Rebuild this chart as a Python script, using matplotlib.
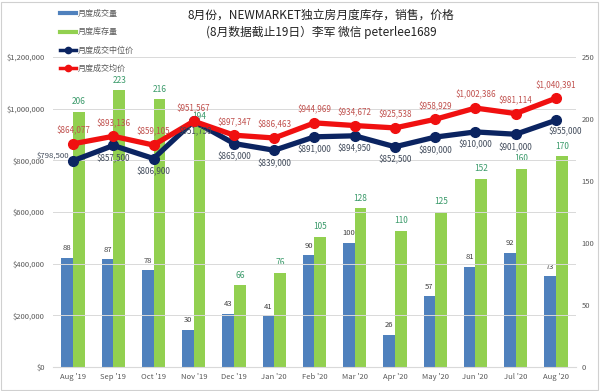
import matplotlib
matplotlib.use("Agg")
import matplotlib.pyplot as plt
import numpy as np
from matplotlib.lines import Line2D

plt.rcParams['font.family'] = ['Noto Sans CJK SC', 'DejaVu Sans']

months = ["Aug '19", "Sep '19", "Oct '19", "Nov '19", "Dec '19", "Jan '20", "Feb '20",
          "Mar '20", "Apr '20", "May '20", "Jun '20", "Jul '20", "Aug '20"]
sales = [88, 87, 78, 30, 43, 41, 90, 100, 26, 57, 81, 92, 73]
inventory = [206, 223, 216, 194, 66, 76, 105, 128, 110, 125, 152, 160, 170]
median_price = [798500, 857500, 806900, 951750, 865000, 839000, 891000, 894950,
                852500, 890000, 910000, 901000, 955000]
avg_price = [864077, 893136, 859105, 951567, 897347, 886463, 944969, 934672,
             925538, 958929, 1002386, 981114, 1040391]

C_BLUE = "#4f81bd"
C_GREEN = "#92d050"
C_NAVY = "#0b2461"
C_RED = "#f01010"
C_TICK = "#595959"
C_GRID = "#d9d9d9"

fig = plt.figure(figsize=(6, 3.91), dpi=100)
ax = fig.add_axes([0.0883, 0.0614, 0.8717, 0.7928])
ax2 = ax.twinx()
ax.set_zorder(ax2.get_zorder() + 1)
ax.patch.set_visible(False)

x = np.arange(len(months))
w = 0.29

ax2.bar(x - w / 2, sales, width=w, color=C_BLUE, zorder=2)
ax2.bar(x + w / 2, inventory, width=w, color=C_GREEN, zorder=2)
ax2.set_ylim(0, 250)
ax2.set_yticks(np.arange(0, 251, 50))

for xi, v in zip(x, sales):
    ax2.annotate(str(v), (xi - w / 2, v), xytext=(0, 4), textcoords="offset points",
                 ha="center", va="bottom", fontsize=5.5, color="#404040")
for xi, v in zip(x, inventory):
    ax2.annotate(str(v), (xi + w / 2, v), xytext=(0, 4), textcoords="offset points",
                 ha="center", va="bottom", fontsize=6, color="#3a9a6a")

ax.plot(x, median_price, color=C_NAVY, lw=3.8, marker="o", ms=7, zorder=4,
        solid_joinstyle="round", solid_capstyle="round")
ax.plot(x, avg_price, color=C_RED, lw=3.8, marker="o", ms=7, zorder=5,
        solid_joinstyle="round", solid_capstyle="round")
ax.set_ylim(0, 1200000)
ticks = np.arange(0, 1200001, 200000)
ax.set_yticks(ticks)
ax.set_yticklabels(["$" + format(int(v), ",") for v in ticks])
ax.set_xlim(-0.5, len(months) - 0.5)
ax.set_xticks(x)
ax.set_xticklabels(months)


def money(v):
    return "$" + format(int(v), ",")


for i, v in enumerate(avg_price):
    ax.annotate(money(v), (x[i], v), xytext=(0, 6), textcoords="offset points",
                ha="center", va="bottom", fontsize=5.8, color="#c0504d", zorder=6)
for i, v in enumerate(median_price):
    if i == 0:
        ax.annotate(money(v), (x[i], v), xytext=(-3, 4), textcoords="offset points",
                    ha="right", va="center", fontsize=5.6, color="#404a5a", zorder=6)
    elif i == len(median_price) - 1:
        ax.annotate(money(v), (x[i], v), xytext=(7, -5), textcoords="offset points",
                    ha="center", va="top", fontsize=5.8, color="#404a5a", zorder=6)
    elif i == 3:
        ax.annotate(money(v), (x[i], v), xytext=(1, -4), textcoords="offset points",
                    ha="center", va="top", fontsize=5.8, color="#404a5a", zorder=6)
    else:
        ax.annotate(money(v), (x[i], v), xytext=(0, -6), textcoords="offset points",
                    ha="center", va="top", fontsize=5.8, color="#404a5a", zorder=6)

ax.grid(axis="y", color=C_GRID, lw=0.7)
ax.set_axisbelow(True)
for a in (ax, ax2):
    for s in a.spines.values():
        s.set_visible(False)
    a.tick_params(length=0, labelsize=5.5, labelcolor=C_TICK)
ax.spines["bottom"].set_visible(True)
ax.spines["bottom"].set_color(C_GRID)
ax.tick_params(axis="y", pad=6)
ax2.tick_params(axis="y", pad=4)
ax.tick_params(axis="x", pad=4)

handles = [
    Line2D([0], [0], color=C_BLUE, lw=3),
    Line2D([0], [0], color=C_GREEN, lw=3),
    Line2D([0], [0], color=C_NAVY, lw=2.5, marker="o", ms=4.5),
    Line2D([0], [0], color=C_RED, lw=2.5, marker="o", ms=4.5),
]
labels = ["月度成交量", "月度库存量", "月度成交中位价", "月度成交均价"]
leg = fig.legend(handles, labels, loc="upper left", bbox_to_anchor=(0.095, 0.985),
                 frameon=False, fontsize=5.8, handlelength=2.0, labelspacing=1.15,
                 handletextpad=0.15, borderaxespad=0)
for t in leg.get_texts():
    t.set_color(C_TICK)

fig.text(0.535, 0.962, "8月份，NEWMARKET独立房月度库存，销售，价格", ha="center",
         va="center", fontsize=8.5, color="#222222")
fig.text(0.535, 0.918, "(8月数据截止19日）李军 微信 peterlee1689", ha="center",
         va="center", fontsize=8.5, color="#222222")

fig.patches.append(plt.Rectangle((0.002, 0.003), 0.995, 0.993, transform=fig.transFigure,
                                 fill=False, edgecolor="#d0d0d0", lw=0.8))

fig.savefig("out.png", dpi=100)
